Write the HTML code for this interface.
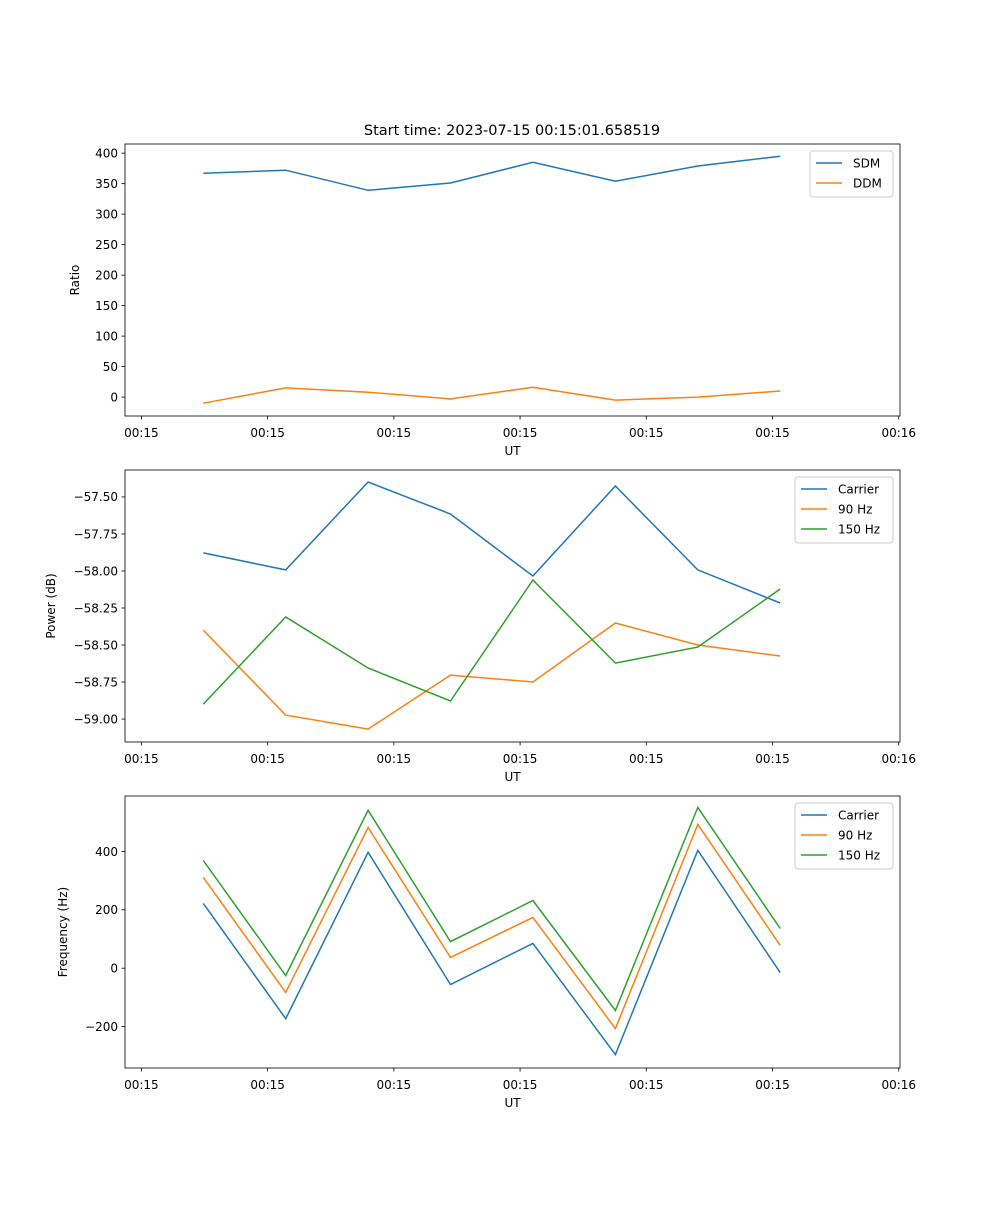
<!DOCTYPE html>
<html><head><meta charset="utf-8"><style>
body{margin:0;background:#fff}
svg{font-family:"DejaVu Sans","Liberation Sans",sans-serif}
</style></head><body>
<svg id="fig" width="1000" height="1200" viewBox="0 0 1000 1200">
<rect width="1000" height="1200" fill="#fff"/>
<text x="512" y="135" font-size="14.5" text-anchor="middle">Start time: 2023-07-15 00:15:01.658519</text>
</svg>
<script>
const pointTimes = [0.49, 1.143, 1.796, 2.449, 3.102, 3.755, 4.408, 5.061];
const xTickValues = [0, 1, 2, 3, 4, 5, 6];
const xTickLabels = ["00:15","00:15","00:15","00:15","00:15","00:15","00:16"];

const sdm = [367, 372, 339, 351, 385, 354, 379, 395];
const ddm = [-10, 15, 8, -3, 16, -5, 0, 10];
const ratioTicks = [0, 50, 100, 150, 200, 250, 300, 350, 400];

const powCarrier = [-57.878, -57.993, -57.399, -57.615, -58.034, -57.426, -57.993, -58.216];
const pow90 = [-58.399, -58.973, -59.068, -58.703, -58.75, -58.351, -58.5, -58.574];
const pow150 = [-58.899, -58.311, -58.655, -58.878, -58.061, -58.622, -58.514, -58.122];
const powTicks = [-59.0, -58.75, -58.5, -58.25, -58.0, -57.75, -57.5];

const freqCarrier = [222, -173, 397, -56, 85, -296, 404, -15];
const freq90 = [311, -83, 482, 37, 174, -207, 493, 78];
const freq150 = [369, -25, 541, 91, 232, -145, 551, 136];
const freqTicks = [-200, 0, 200, 400];

const svg = document.getElementById('fig');
const NS = 'http://www.w3.org/2000/svg';
function el(tag, attrs, parent){const e=document.createElementNS(NS,tag);for(const k in attrs)e.setAttribute(k,attrs[k]);(parent||svg).appendChild(e);return e;}
const colors = ['#1f77b4','#ff7f0e','#2ca02c'];

function panel(opt){
  const L=125,R=900,T=opt.top,B=opt.top+272;
  const x0=-0.13, x1=6.01;
  const xs=v=>L+(v-x0)/(x1-x0)*(R-L);
  const ys=v=>B-(v-opt.ymin)/(opt.ymax-opt.ymin)*(B-T);
  const g=el('g',{});
  
  
  opt.series.forEach((s,si)=>{
    const pts=s.vals.map((v,i)=>xs(pointTimes[i]).toFixed(1)+','+ys(v).toFixed(1)).join(' ');
    const p=el('polyline',{points:pts,fill:'none',stroke:colors[si],'stroke-width':1.5},g);
    
    
  });
  el('rect',{x:L,y:T,width:R-L,height:B-T,fill:'none',stroke:'#000','stroke-width':0.8},g);
  xTickValues.forEach((v,i)=>{
    const x=xs(v);
    el('line',{x1:x,x2:x,y1:B,y2:B+3.5,stroke:'#000','stroke-width':0.8},g);
    const t=el('text',{x:x,y:B+21,'font-size':12,'text-anchor':'middle'},g);
    t.textContent=xTickLabels[i];
    
    
  });
  opt.ticks.forEach(v=>{
    const y=ys(v);
    el('line',{x1:L-3.5,x2:L,y1:y,y2:y,stroke:'#000','stroke-width':0.8},g);
    const t=el('text',{x:L-7,y:y+4.3,'font-size':12,'text-anchor':'end'},g);
    t.textContent=opt.fmt(v);
    
    
  });
  const xl=el('text',{x:(L+R)/2,y:B+39,'font-size':12,'text-anchor':'middle'},g);
  xl.textContent='UT';
  
  
  const yl=el('text',{x:0,y:0,'font-size':12,'text-anchor':'middle',transform:`translate(${opt.ylx},${(T+B)/2}) rotate(-90)`},g);
  yl.textContent=opt.ylabel;
  
  
  const lw=opt.legW, lx=R-7-lw, ly=T+7, lh=6+opt.series.length*20;
  const lg=el('g',{},g);
  
  
  el('rect',{x:lx,y:ly,width:lw,height:lh,rx:3,fill:'#fff','fill-opacity':0.8,stroke:'#ccc'},lg);
  opt.series.forEach((s,si)=>{
    const yy=ly+12+si*20;
    el('line',{x1:lx+6,x2:lx+32,y1:yy,y2:yy,stroke:colors[si],'stroke-width':1.5},lg);
    const t=el('text',{x:lx+43,y:yy+4.5,'font-size':12},lg);
    t.textContent=s.label;
    
    
  });
}
panel({name:'ratio-panel',top:144,ymin:-31,ymax:415,ticks:ratioTicks,fmt:v=>String(v),ylabel:'Ratio',ylx:79,legW:83,
  series:[{id:'sdm',label:'SDM',vals:sdm},{id:'ddm',label:'DDM',vals:ddm}]});
panel({name:'power-panel',top:470,ymin:-59.155,ymax:-57.318,ticks:powTicks,fmt:v=>'\u2212'+Math.abs(v).toFixed(2),ylabel:'Power (dB)',ylx:55,legW:98,
  series:[{id:'carrier',label:'Carrier',vals:powCarrier},{id:'tone-90hz',label:'90 Hz',vals:pow90},{id:'tone-150hz',label:'150 Hz',vals:pow150}]});
panel({name:'frequency-panel',top:796,ymin:-342,ymax:590,ticks:freqTicks,fmt:v=>v<0?'\u2212'+Math.abs(v):String(v),ylabel:'Frequency (Hz)',ylx:67,legW:98,
  series:[{id:'carrier',label:'Carrier',vals:freqCarrier},{id:'tone-90hz',label:'90 Hz',vals:freq90},{id:'tone-150hz',label:'150 Hz',vals:freq150}]});
</script>
</body></html>
